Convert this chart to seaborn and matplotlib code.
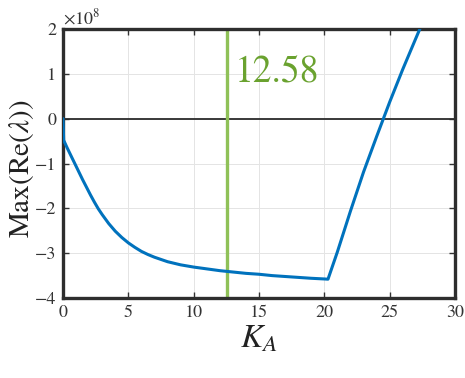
import numpy as np
import pandas as pd
import matplotlib
matplotlib.use("Agg")
import matplotlib.pyplot as plt
import seaborn as sns

# Largest real part of the eigenvalues as a function of the gain K_A
k_a = [0.0, 0.05, 0.3, 0.6, 0.9, 1.2, 1.5, 1.8, 2.1, 2.4, 2.7, 3.0, 3.5,
       4.0, 4.5, 5.0, 5.5, 6.0, 6.5, 7.0, 7.5, 8.0, 9.0, 10.0, 11.0, 12.0,
       13.0, 14.0, 15.0, 16.0, 17.0, 18.0, 19.0, 20.0, 20.28,
       21.0, 22.0, 23.0, 24.0, 25.0, 26.0, 27.0, 27.6]
max_re = [0.0, -0.48, -0.64, -0.82, -1.00, -1.18, -1.36, -1.53, -1.70,
          -1.86, -2.01, -2.14, -2.34, -2.51, -2.65, -2.77, -2.87, -2.96,
          -3.03, -3.09, -3.14, -3.19, -3.26, -3.31, -3.35, -3.39, -3.42,
          -3.45, -3.47, -3.50, -3.52, -3.54, -3.56, -3.575, -3.58,
          -2.97, -2.06, -1.19, -0.40, 0.37, 1.10, 1.79, 2.20]  # units of 1e8

critical_gain = 12.58
x_ticks = [0, 5, 10, 15, 20, 25, 30]
y_ticks = [-4, -3, -2, -1, 0, 1, 2]

df = pd.DataFrame({"K_A": k_a, "max_re": max_re})

sns.set_theme(style="whitegrid")
plt.rcParams["font.family"] = ["STIXGeneral", "DejaVu Serif"]
plt.rcParams["mathtext.fontset"] = "stix"

fig = plt.figure(figsize=(4.65, 3.78), dpi=100)
ax = fig.add_axes([0.1355, 0.2116, 0.843, 0.7117])
ax.set_facecolor("white")

ax.grid(True, color="#e4e4e4", linewidth=0.7)

sns.lineplot(data=df, x="K_A", y="max_re", ax=ax, color="#0072bd",
             linewidth=2.2, estimator=None, sort=False, zorder=3)

ax.axhline(0, color="#2b2b2b", linewidth=1.3, zorder=2)
ax.axvline(critical_gain, color="#8fc158", linewidth=2.4, zorder=2)
ax.text(critical_gain + 0.6, 1.03, f"{critical_gain:.2f}", color="#6aa22f",
        fontsize=27, ha="left", va="center")

ax.set_xlim(0, 30)
ax.set_ylim(-4, 2)
ax.set_xticks(x_ticks)
ax.set_yticks(y_ticks)
ax.set_xticklabels([str(v) for v in x_ticks])
ax.set_yticklabels([("\u2212" + str(-v)) if v < 0 else str(v) for v in y_ticks])

ax.tick_params(axis="both", which="both", direction="in", length=4,
               width=1.0, color="#333333", labelsize=13, labelcolor="#333333",
               top=True, right=True, bottom=True, left=True, pad=5)

for sp in ax.spines.values():
    sp.set_visible(True)
    sp.set_color("#2e2e2e")
    sp.set_linewidth(2.4)

ax.set_xlabel("$K_A$", fontsize=24, labelpad=2, color="#222222")
ax.set_ylabel("Max(Re($\\lambda$))", fontsize=21, color="#222222")
ax.yaxis.set_label_coords(-0.068, 0.48)

ax.text(0.0, 1.005, "$\\times10^{8}$", transform=ax.transAxes, fontsize=13,
        color="#333333", ha="left", va="bottom")

fig.savefig("out.png", dpi=100, facecolor="white")
